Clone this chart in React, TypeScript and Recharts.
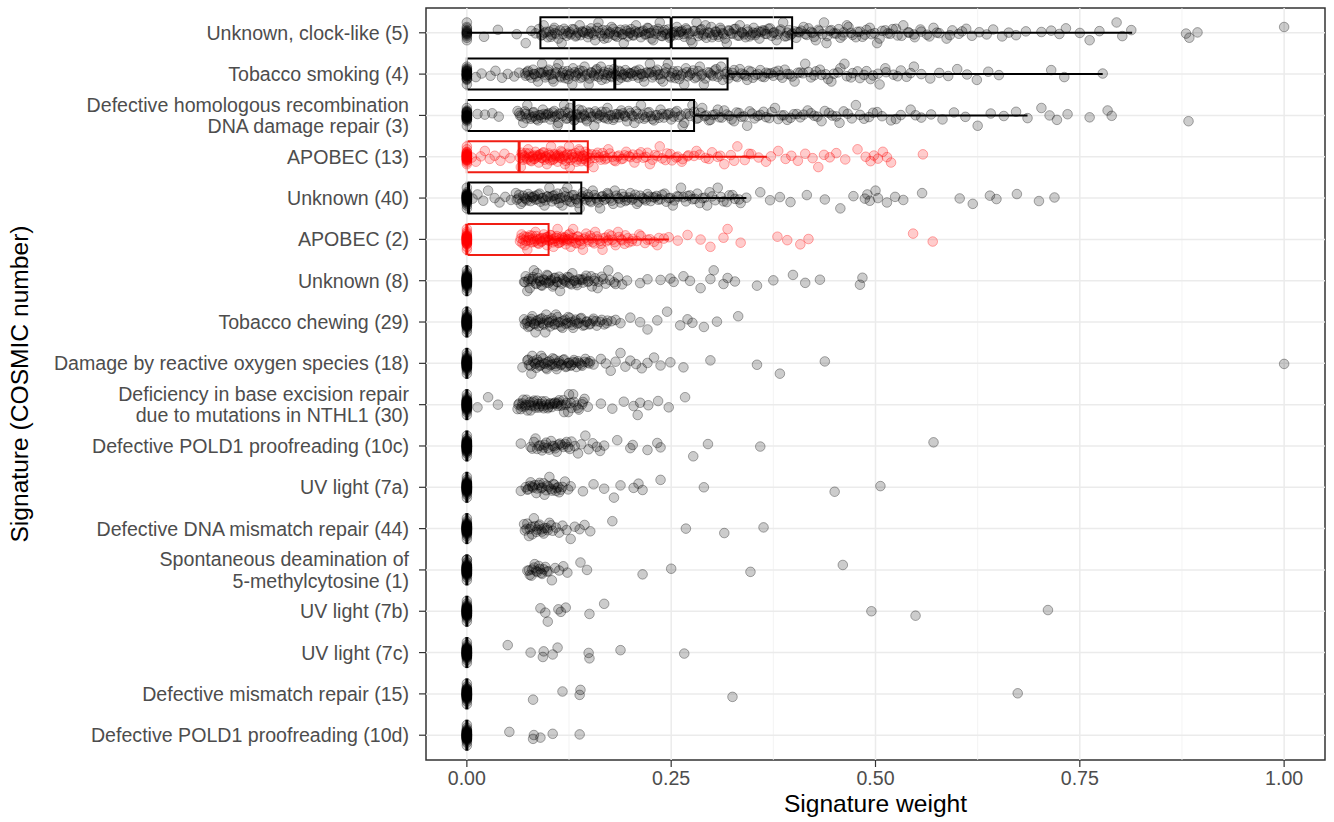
import React from "react";
import { ScatterChart, Scatter, XAxis, YAxis, ReferenceLine, ReferenceArea, Label } from "recharts";

const SIGNATURES = [
  "Unknown, clock-like (5)",
  "Tobacco smoking (4)",
  "Defective homologous recombination\nDNA damage repair (3)",
  "APOBEC (13)",
  "Unknown (40)",
  "APOBEC (2)",
  "Unknown (8)",
  "Tobacco chewing (29)",
  "Damage by reactive oxygen species (18)",
  "Deficiency in base excision repair\ndue to mutations in NTHL1 (30)",
  "Defective POLD1 proofreading (10c)",
  "UV light (7a)",
  "Defective DNA mismatch repair (44)",
  "Spontaneous deamination of\n5-methylcytosine (1)",
  "UV light (7b)",
  "UV light (7c)",
  "Defective mismatch repair (15)",
  "Defective POLD1 proofreading (10d)",
];

// rows coloured red (APOBEC signatures)
const APOBEC_ROWS = [3, 5];

// how many samples sit at exactly 0 for each signature
const ZERO_COUNTS = [14, 26, 26, 30, 34, 34, 44, 44, 44, 44, 46, 46, 46, 46, 46, 46, 46, 46];

// boxplot stats
const Q1 = [0.09, 0, 0, 0, 0, 0, 0, 0, 0, 0, 0, 0, 0, 0, 0, 0, 0, 0];
const MEDIAN = [0.25, 0.181, 0.131, 0.064, 0.002, 0, 0, 0, 0, 0, 0, 0, 0, 0, 0, 0, 0, 0];
const Q3 = [0.398, 0.319, 0.278, 0.148, 0.14, 0.1, 0, 0, 0, 0, 0, 0, 0, 0, 0, 0, 0, 0];
const WHISKER_HI = [0.814, 0.778, 0.686, 0.367, 0.342, 0.247, 0, 0, 0, 0, 0, 0, 0, 0, 0, 0, 0, 0];

// non-zero weights per signature
const SIG5 = [
  0.021, 0.038, 0.061, 0.072, 0.079, 0.084, 0.088,
  0.091, 0.094, 0.095, 0.099, 0.101, 0.104, 0.107, 0.108, 0.112, 0.114, 0.118, 0.119, 0.122, 0.126,
  0.127, 0.131, 0.133, 0.136, 0.139, 0.141, 0.142, 0.146, 0.149, 0.152, 0.153, 0.157, 0.158, 0.161,
  0.165, 0.166, 0.169, 0.172, 0.175, 0.177, 0.18, 0.183, 0.184, 0.188, 0.191, 0.192, 0.196, 0.199,
  0.201, 0.204, 0.207, 0.209, 0.213, 0.214, 0.218, 0.221, 0.223, 0.226, 0.229, 0.231, 0.234, 0.238,
  0.24, 0.243, 0.246, 0.249, 0.251, 0.254, 0.256, 0.26, 0.263, 0.265, 0.268, 0.272, 0.274, 0.277,
  0.281, 0.283, 0.286, 0.29, 0.293, 0.295, 0.299, 0.302, 0.305, 0.308, 0.311, 0.314, 0.318, 0.321,
  0.323, 0.327, 0.331, 0.334, 0.337, 0.341, 0.344, 0.348, 0.351, 0.354, 0.358, 0.362, 0.365, 0.369,
  0.373, 0.376, 0.38, 0.384, 0.389, 0.392, 0.396, 0.401, 0.405, 0.409, 0.414, 0.418, 0.423, 0.427,
  0.431, 0.437, 0.441, 0.446, 0.452, 0.457, 0.461, 0.467, 0.472, 0.478, 0.484, 0.489, 0.495, 0.502,
  0.508, 0.515, 0.521, 0.527, 0.534, 0.541, 0.548, 0.556, 0.563, 0.571, 0.578, 0.587, 0.594, 0.602,
  0.611, 0.618, 0.627, 0.636, 0.644, 0.655, 0.663, 0.672, 0.684,
  0.703, 0.715, 0.725, 0.733, 0.75, 0.762, 0.774, 0.795, 0.802, 0.813, 0.88, 0.884, 0.894, 1.0,
  0.092, 0.097, 0.103, 0.106, 0.11, 0.116, 0.121, 0.124, 0.129, 0.134, 0.138, 0.144, 0.148, 0.151,
  0.155, 0.16, 0.163, 0.168, 0.171, 0.174, 0.179, 0.182, 0.186, 0.19, 0.194, 0.197, 0.2, 0.203,
  0.206, 0.211, 0.216, 0.219, 0.222, 0.225, 0.228, 0.233, 0.236, 0.239, 0.242, 0.245, 0.248, 0.253,
  0.257, 0.259, 0.262, 0.266, 0.269, 0.271, 0.276, 0.279, 0.284, 0.287, 0.289, 0.292, 0.297, 0.3,
  0.304, 0.307, 0.31, 0.313, 0.316, 0.32, 0.325, 0.329, 0.333, 0.336, 0.339, 0.343, 0.346, 0.35,
  0.353, 0.357, 0.36, 0.364, 0.367, 0.371, 0.375, 0.379, 0.383, 0.387, 0.391, 0.394, 0.398, 0.403,
  0.407, 0.412, 0.416, 0.421, 0.425, 0.43, 0.435, 0.44, 0.444, 0.449, 0.455, 0.46, 0.465, 0.47,
  0.476, 0.481, 0.487, 0.493, 0.499, 0.505, 0.512, 0.518, 0.525, 0.532, 0.54, 0.547, 0.555, 0.566,
  0.575, 0.591, 0.606,
];
const SIG4 = [
  0.011, 0.018, 0.029, 0.035, 0.043, 0.05, 0.058, 0.064,
  0.071, 0.074, 0.076, 0.081, 0.083, 0.087, 0.09, 0.092, 0.096, 0.099, 0.101, 0.105, 0.108, 0.11,
  0.114, 0.117, 0.12, 0.123, 0.125, 0.129, 0.132, 0.134, 0.138, 0.141, 0.144, 0.147, 0.15, 0.153,
  0.156, 0.159, 0.162, 0.165, 0.168, 0.171, 0.174, 0.177, 0.179, 0.183, 0.186, 0.189, 0.192, 0.195,
  0.198, 0.201, 0.205, 0.208, 0.211, 0.214, 0.217, 0.221, 0.224, 0.227, 0.231, 0.234, 0.237, 0.241,
  0.244, 0.248, 0.251, 0.255, 0.258, 0.262, 0.266, 0.269, 0.273, 0.277, 0.281, 0.285, 0.288, 0.292,
  0.297, 0.301, 0.305, 0.309, 0.313, 0.318, 0.322, 0.327, 0.331, 0.336, 0.341, 0.345, 0.35, 0.356,
  0.361, 0.366, 0.372, 0.377, 0.383, 0.389, 0.395, 0.401, 0.408, 0.414, 0.421, 0.427, 0.434, 0.442,
  0.449, 0.457, 0.465, 0.472, 0.481, 0.489, 0.497, 0.505, 0.513, 0.522, 0.531, 0.538, 0.547, 0.556,
  0.567, 0.578, 0.589, 0.6, 0.612, 0.624, 0.638, 0.651, 0.715, 0.731, 0.778,
  0.072, 0.075, 0.079, 0.082, 0.085, 0.088, 0.091, 0.094, 0.097, 0.1, 0.103, 0.106, 0.109, 0.112,
  0.115, 0.118, 0.121, 0.124, 0.127, 0.13, 0.133, 0.136, 0.139, 0.142, 0.145, 0.149, 0.152, 0.155,
  0.158, 0.161, 0.164, 0.167, 0.17, 0.173, 0.176, 0.18, 0.182, 0.185, 0.188, 0.191, 0.194, 0.197,
  0.2, 0.203, 0.207, 0.21, 0.213, 0.216, 0.219, 0.223, 0.226, 0.229, 0.233, 0.236, 0.24, 0.243,
  0.246, 0.25, 0.253, 0.257, 0.26, 0.264, 0.268, 0.271, 0.275, 0.279, 0.283, 0.287, 0.29, 0.295,
  0.299, 0.303, 0.307, 0.311, 0.316, 0.32, 0.325, 0.329, 0.334, 0.339, 0.343, 0.348, 0.353, 0.359,
  0.364, 0.369, 0.375, 0.381, 0.386, 0.392, 0.398, 0.405, 0.411, 0.418, 0.425, 0.432, 0.439, 0.446,
  0.454, 0.462, 0.47, 0.478, 0.486, 0.494, 0.503, 0.512, 0.527, 0.543,
];
const SIG3 = [
  0.013, 0.022, 0.031, 0.039,
  0.062, 0.065, 0.069, 0.072, 0.074, 0.078, 0.081, 0.083, 0.087, 0.09, 0.093, 0.095, 0.099, 0.102,
  0.105, 0.108, 0.111, 0.113, 0.117, 0.12, 0.123, 0.126, 0.129, 0.132, 0.135, 0.138, 0.141, 0.144,
  0.147, 0.151, 0.154, 0.157, 0.16, 0.163, 0.167, 0.17, 0.173, 0.177, 0.18, 0.184, 0.187, 0.191,
  0.194, 0.198, 0.202, 0.205, 0.209, 0.213, 0.217, 0.221, 0.225, 0.229, 0.233, 0.237, 0.241, 0.246,
  0.25, 0.255, 0.259, 0.264, 0.268, 0.273, 0.278, 0.283, 0.288, 0.293, 0.298, 0.304, 0.309, 0.315,
  0.321, 0.327, 0.333, 0.339, 0.346, 0.352, 0.359, 0.366, 0.373, 0.381, 0.388, 0.396, 0.404, 0.412,
  0.421, 0.429, 0.438, 0.447, 0.456, 0.466, 0.476, 0.486, 0.497, 0.508, 0.519, 0.531, 0.543, 0.556,
  0.568, 0.582, 0.596, 0.61, 0.625, 0.641, 0.657, 0.672, 0.686,
  0.703, 0.713, 0.722, 0.735, 0.762, 0.784, 0.789, 0.883,
  0.064, 0.067, 0.071, 0.073, 0.076, 0.08, 0.082, 0.085, 0.088, 0.091, 0.094, 0.097, 0.1, 0.104,
  0.107, 0.11, 0.112, 0.115, 0.119, 0.122, 0.124, 0.127, 0.131, 0.134, 0.137, 0.14, 0.143, 0.146,
  0.149, 0.152, 0.156, 0.159, 0.162, 0.165, 0.169, 0.172, 0.175, 0.179, 0.182, 0.186, 0.189, 0.193,
  0.196, 0.2, 0.204, 0.207, 0.211, 0.215, 0.219, 0.223, 0.227, 0.231, 0.235, 0.239, 0.244, 0.248,
  0.253, 0.257, 0.262, 0.266, 0.271, 0.276, 0.281, 0.286, 0.291, 0.296, 0.301, 0.307, 0.312, 0.318,
  0.324, 0.33, 0.336, 0.343, 0.349, 0.356, 0.363, 0.37, 0.377, 0.385, 0.392, 0.4, 0.408, 0.417,
  0.425, 0.434, 0.443, 0.452, 0.461, 0.471, 0.481, 0.492, 0.502, 0.525, 0.549,
];
const SIG13 = [
  0.006, 0.011, 0.017, 0.022, 0.028, 0.034, 0.041, 0.046, 0.053,
  0.066, 0.068, 0.07, 0.072, 0.074, 0.075, 0.077, 0.079, 0.081, 0.083, 0.084, 0.086, 0.088, 0.09,
  0.091, 0.093, 0.095, 0.097, 0.099, 0.1, 0.102, 0.104, 0.106, 0.108, 0.11, 0.112, 0.114, 0.116,
  0.118, 0.12, 0.122, 0.125, 0.127, 0.129, 0.131, 0.134, 0.136, 0.138, 0.141, 0.143, 0.146, 0.148,
  0.151, 0.155, 0.158, 0.162, 0.166, 0.169, 0.173, 0.178, 0.182, 0.186, 0.191, 0.195, 0.2, 0.205,
  0.21, 0.216, 0.221, 0.227, 0.233, 0.239, 0.245, 0.251, 0.258, 0.264, 0.271, 0.278, 0.285, 0.292,
  0.3, 0.307, 0.315, 0.323, 0.331, 0.34, 0.348, 0.357, 0.366,
  0.372, 0.381, 0.39, 0.397, 0.405, 0.414, 0.423, 0.43, 0.437, 0.444, 0.452, 0.463, 0.478, 0.488,
  0.494, 0.498, 0.503, 0.509, 0.514, 0.519, 0.558,
  0.065, 0.067, 0.069, 0.071, 0.073, 0.076, 0.078, 0.08, 0.082, 0.085, 0.087, 0.089, 0.092, 0.094,
  0.096, 0.098, 0.101, 0.103, 0.105, 0.107, 0.109, 0.111, 0.113, 0.115, 0.117, 0.119, 0.121, 0.123,
  0.124, 0.126, 0.128, 0.13, 0.133, 0.135, 0.137, 0.139, 0.14, 0.142, 0.144, 0.145, 0.147, 0.149,
  0.153, 0.157, 0.16, 0.164, 0.168, 0.171, 0.175, 0.18, 0.184, 0.189, 0.193, 0.198, 0.203, 0.208,
  0.213, 0.219, 0.224, 0.23, 0.236, 0.243, 0.249, 0.256, 0.263, 0.27, 0.281, 0.296, 0.31, 0.327,
  0.345,
];
const SIG40 = [
  0.007, 0.013, 0.02, 0.026, 0.034, 0.04, 0.047, 0.054,
  0.06, 0.063, 0.066, 0.069, 0.072, 0.075, 0.078, 0.081, 0.084, 0.087, 0.09, 0.093, 0.096, 0.099,
  0.102, 0.105, 0.108, 0.111, 0.114, 0.117, 0.12, 0.123, 0.126, 0.129, 0.133, 0.136, 0.139, 0.142,
  0.146, 0.149, 0.152, 0.156, 0.159, 0.163, 0.166, 0.17, 0.173, 0.177, 0.181, 0.185, 0.188, 0.192,
  0.196, 0.2, 0.204, 0.208, 0.212, 0.217, 0.221, 0.225, 0.23, 0.234, 0.239, 0.244, 0.249, 0.254,
  0.259, 0.265, 0.27, 0.276, 0.282, 0.288, 0.294, 0.3, 0.307, 0.314, 0.321, 0.328, 0.335, 0.342,
  0.359, 0.371, 0.383, 0.396, 0.416, 0.438, 0.457, 0.473, 0.487, 0.49, 0.493, 0.5, 0.503, 0.514,
  0.524, 0.534, 0.557, 0.603, 0.619, 0.64, 0.648, 0.673, 0.7, 0.719,
  0.061, 0.064, 0.068, 0.071, 0.074, 0.077, 0.08, 0.083, 0.086, 0.089, 0.092, 0.095, 0.098, 0.101,
  0.104, 0.107, 0.11, 0.113, 0.116, 0.119, 0.122, 0.125, 0.128, 0.131, 0.134, 0.138, 0.141, 0.144,
  0.148, 0.151, 0.154, 0.158, 0.161, 0.165, 0.168, 0.172, 0.175, 0.179, 0.183, 0.187, 0.19, 0.194,
  0.198, 0.202, 0.206, 0.21, 0.215, 0.219, 0.223, 0.228, 0.232, 0.237, 0.242, 0.247, 0.252, 0.257,
  0.262, 0.268, 0.273, 0.279, 0.285, 0.291, 0.297, 0.304, 0.311, 0.318, 0.325, 0.333,
];
const SIG2 = [
  0.065, 0.067, 0.069, 0.071, 0.073, 0.075, 0.077, 0.079, 0.081, 0.083, 0.085, 0.087, 0.089, 0.091,
  0.093, 0.095, 0.097, 0.1, 0.102, 0.104, 0.106, 0.109, 0.111, 0.113, 0.116, 0.118, 0.121, 0.123,
  0.126, 0.128, 0.131, 0.134, 0.136, 0.139, 0.142, 0.145, 0.148, 0.151, 0.154, 0.157, 0.16, 0.164,
  0.167, 0.171, 0.174, 0.178, 0.182, 0.186, 0.19, 0.194, 0.198, 0.203, 0.208, 0.213, 0.218, 0.224,
  0.229, 0.235, 0.241, 0.247,
  0.258, 0.27, 0.286, 0.298, 0.314, 0.319, 0.335, 0.38, 0.392, 0.408, 0.418, 0.546, 0.57,
  0.066, 0.068, 0.07, 0.072, 0.074, 0.076, 0.078, 0.08, 0.082, 0.084, 0.086, 0.088, 0.09, 0.092,
  0.094, 0.096, 0.098, 0.099, 0.101, 0.103, 0.105, 0.107, 0.108, 0.11, 0.112, 0.114, 0.115, 0.117,
  0.119, 0.12, 0.122, 0.124, 0.125, 0.127, 0.129, 0.13, 0.133, 0.135, 0.138, 0.14, 0.143, 0.146,
  0.149, 0.153, 0.156, 0.159, 0.163, 0.166, 0.17, 0.173, 0.177, 0.181, 0.185, 0.189, 0.193, 0.197,
  0.202, 0.211, 0.221, 0.233,
];
const SIG8 = [
  0.07, 0.072, 0.075, 0.077, 0.08, 0.082, 0.085, 0.087, 0.09, 0.092, 0.095, 0.098, 0.1, 0.103,
  0.106, 0.108, 0.111, 0.114, 0.117, 0.12, 0.123, 0.126, 0.129, 0.132, 0.135, 0.139, 0.142, 0.146,
  0.149, 0.153, 0.157, 0.161, 0.165, 0.17, 0.175, 0.18, 0.185, 0.19, 0.196,
  0.212, 0.221, 0.237, 0.249, 0.253, 0.265, 0.273, 0.286, 0.298, 0.302, 0.314, 0.319, 0.328, 0.355,
  0.375, 0.399, 0.414, 0.432, 0.481, 0.484,
  0.071, 0.074, 0.076, 0.079, 0.081, 0.084, 0.086, 0.089, 0.091, 0.094, 0.097, 0.099, 0.102, 0.105,
  0.107, 0.11, 0.113, 0.116, 0.119, 0.122, 0.125, 0.128, 0.131, 0.134, 0.137, 0.141, 0.144, 0.148,
  0.152, 0.156, 0.16, 0.167, 0.173, 0.182,
];
const SIG29 = [
  0.07, 0.073, 0.075, 0.078, 0.08, 0.083, 0.085, 0.088, 0.09, 0.093, 0.096, 0.098, 0.101, 0.104,
  0.107, 0.109, 0.112, 0.115, 0.118, 0.121, 0.124, 0.127, 0.13, 0.133, 0.137, 0.14, 0.144, 0.147,
  0.151, 0.155, 0.159, 0.163, 0.168, 0.172, 0.177, 0.182, 0.188,
  0.2, 0.212, 0.221, 0.233, 0.245, 0.261, 0.27, 0.276, 0.29, 0.306, 0.332,
  0.071, 0.074, 0.077, 0.079, 0.082, 0.084, 0.087, 0.089, 0.092, 0.094, 0.097, 0.1, 0.102, 0.105,
  0.108, 0.111, 0.114, 0.117, 0.12, 0.123, 0.126, 0.129, 0.132, 0.135, 0.139, 0.142, 0.146, 0.15,
  0.154, 0.158, 0.165, 0.171,
];
const SIG18 = [
  0.068, 0.074, 0.076, 0.079, 0.081, 0.084, 0.086, 0.089, 0.091, 0.094, 0.097, 0.099, 0.102, 0.105,
  0.108, 0.11, 0.113, 0.116, 0.119, 0.122, 0.125, 0.128, 0.131, 0.134, 0.138, 0.141, 0.144, 0.148,
  0.151, 0.155, 0.164, 0.17, 0.176, 0.182, 0.188, 0.194, 0.2, 0.207, 0.214, 0.221, 0.229, 0.237,
  0.249, 0.265, 0.298, 0.355, 0.383, 0.438, 1.0,
  0.075, 0.078, 0.08, 0.083, 0.085, 0.088, 0.09, 0.093, 0.096, 0.098, 0.101, 0.104, 0.107, 0.109,
  0.112, 0.115, 0.118, 0.121, 0.124, 0.127, 0.13, 0.133, 0.136, 0.14, 0.145, 0.15,
];
const SIG30 = [
  0.013, 0.026, 0.038,
  0.062, 0.064, 0.067, 0.069, 0.072, 0.074, 0.077, 0.079, 0.082, 0.084, 0.087, 0.089, 0.092, 0.094,
  0.097, 0.1, 0.102, 0.105, 0.108, 0.111, 0.113, 0.116, 0.119, 0.122, 0.125, 0.128, 0.131, 0.134,
  0.137, 0.141, 0.144, 0.148,
  0.164, 0.178, 0.192, 0.204, 0.209, 0.212, 0.222, 0.234, 0.247, 0.267,
  0.063, 0.066, 0.068, 0.071, 0.073, 0.076, 0.078, 0.081, 0.083, 0.086, 0.088, 0.091, 0.093, 0.096,
  0.099, 0.101, 0.104, 0.107, 0.11, 0.112, 0.115, 0.118, 0.121, 0.124, 0.127, 0.13, 0.136, 0.142,
];
const SIG10C = [
  0.066, 0.078, 0.082, 0.086, 0.09, 0.094, 0.097, 0.101, 0.105, 0.108, 0.112, 0.116, 0.12, 0.124,
  0.128, 0.132, 0.136, 0.14, 0.145, 0.149, 0.154, 0.159, 0.163, 0.168,
  0.184, 0.2, 0.203, 0.221, 0.233, 0.237, 0.277, 0.295, 0.359, 0.571,
  0.08, 0.084, 0.088, 0.092, 0.095, 0.099, 0.103, 0.107, 0.11, 0.114, 0.118, 0.122, 0.126,
];
const SIG7A = [
  0.066, 0.072, 0.074, 0.077, 0.08, 0.083, 0.086, 0.089, 0.092, 0.095, 0.098, 0.101, 0.104, 0.107,
  0.11, 0.113, 0.117, 0.12, 0.124, 0.127,
  0.142, 0.155, 0.168, 0.18, 0.188, 0.204, 0.21, 0.215, 0.237, 0.29, 0.45, 0.506,
  0.075, 0.078, 0.081, 0.085, 0.088, 0.091, 0.094, 0.097, 0.1, 0.103, 0.106, 0.109, 0.112, 0.115,
];
const SIG44 = [
  0.07, 0.073, 0.076, 0.079, 0.082, 0.085, 0.088, 0.091, 0.094, 0.098, 0.101, 0.105, 0.109, 0.113,
  0.117, 0.122, 0.127, 0.132, 0.138, 0.144, 0.151,
  0.178, 0.268, 0.315, 0.363,
  0.071, 0.074, 0.077, 0.08, 0.083, 0.086, 0.089, 0.092, 0.095, 0.099, 0.103,
];
const SIG1 = [
  0.074, 0.077, 0.08, 0.083, 0.086, 0.089, 0.092, 0.096, 0.1, 0.104, 0.108, 0.113, 0.118, 0.123,
  0.139, 0.147, 0.215, 0.25, 0.347, 0.46,
  0.076, 0.079, 0.082, 0.085, 0.088, 0.091, 0.094, 0.098,
];
const SIG7B = [0.09, 0.096, 0.099, 0.112, 0.115, 0.121, 0.15, 0.168, 0.495, 0.549, 0.711];
const SIG7C = [0.05, 0.078, 0.093, 0.094, 0.105, 0.111, 0.149, 0.15, 0.188, 0.266];
const SIG15 = [0.081, 0.117, 0.138, 0.139, 0.325, 0.674];
const SIG10D = [0.052, 0.081, 0.082, 0.09, 0.105, 0.138];

const WEIGHTS = [
  SIG5, SIG4, SIG3, SIG13, SIG40, SIG2, SIG8, SIG29, SIG18,
  SIG30, SIG10C, SIG7A, SIG44, SIG1, SIG7B, SIG7C, SIG15, SIG10D,
];

// vertical jitter offsets (fraction of a row, peaked with thin tails), cycled over the points
const JITTER = [
  0.029, -0.107, 0.004, 0.18, -0.04, -0.25, 0.08, -0.065, 0.019, 0.12, -0.009, -0.14, 0.052, -0.024,
  0.097, -0.072, 0.034, 0.25, -0.046, 0.014, -0.088, 0.065, -0.18, 0, 0.107, -0.029, 0.046, -0.12,
  0.009, 0.14, -0.058, 0.024, -0.097, 0.072, -0.014, 0.04, -0.08, 0.088, -0.004, 0.058, -0.034,
  -0.019, -0.052,
];

const X_TICKS = [0, 0.25, 0.5, 0.75, 1];
const X_MINOR = [0.125, 0.375, 0.625, 0.875];
const ROWS = SIGNATURES.map((_, i) => i);

const FONT = "'Liberation Sans', Arial, Helvetica, sans-serif";

const blackPoints: { x: number; y: number }[] = [];
const redPoints: { x: number; y: number }[] = [];
WEIGHTS.forEach((vals, i) => {
  const all = [...new Array(ZERO_COUNTS[i]).fill(0), ...vals];
  all.forEach((v, k) => {
    const p = { x: v, y: i + JITTER[(k + i * 7) % JITTER.length] };
    if (APOBEC_ROWS.includes(i)) redPoints.push(p);
    else blackPoints.push(p);
  });
});

const dot = (color: string) => (props: any) => (
  <circle
    cx={props.cx}
    cy={props.cy}
    r={4.8}
    fill={color}
    fillOpacity={0.2}
    stroke={color}
    strokeOpacity={0.32}
    strokeWidth={1}
  />
);

const SigTick = (props: any) => {
  const { x, y, payload } = props;
  const lines = (SIGNATURES[payload.value] || "").split("\n");
  const lh = 21.5;
  const y0 = y - ((lines.length - 1) * lh) / 2;
  return (
    <text x={x} y={y0} textAnchor="end" fill="#4d4d4d" fontSize={19.6} fontFamily={FONT}>
      {lines.map((l: string, j: number) => (
        <tspan key={j} x={x} y={y0 + j * lh} dy="0.36em">
          {l}
        </tspan>
      ))}
    </text>
  );
};

export default function App() {
  return (
    <div style={{ width: 1334, height: 822 }}>
      <style>{"body{margin:0;background:#fff}"}</style>
      <ScatterChart width={1334} height={822} margin={{ top: 8, right: 9, bottom: 0, left: 0 }}>
        <XAxis
          type="number"
          dataKey="x"
          domain={[-0.05, 1.05]}
          ticks={X_TICKS}
          allowDataOverflow
          tickFormatter={(v: number) => v.toFixed(2)}
          tick={{ fill: "#4d4d4d", fontSize: 19.6, fontFamily: FONT }}
          tickLine={{ stroke: "#333", strokeWidth: 1.2 }}
          axisLine={false}
          tickSize={7}
          tickMargin={4}
          height={62}
        >
          <Label
            value="Signature weight"
            position="insideBottom"
            offset={10}
            style={{ fontSize: 24.6, fill: "#000", fontFamily: FONT }}
          />
        </XAxis>
        <YAxis
          type="number"
          dataKey="y"
          domain={[-0.6, 17.6]}
          reversed
          ticks={ROWS}
          interval={0}
          allowDataOverflow
          tick={<SigTick />}
          tickLine={{ stroke: "#333", strokeWidth: 1.2 }}
          axisLine={false}
          tickSize={7}
          tickMargin={10}
          width={426}
        >
          <Label
            content={() => (
              <text
                transform="translate(19,384) rotate(-90)"
                textAnchor="middle"
                dominantBaseline="central"
                fontSize={24.6}
                fontFamily={FONT}
                fill="#000"
              >
                Signature (COSMIC number)
              </text>
            )}
          />
        </YAxis>

        {X_MINOR.map((v) => (
          <ReferenceLine key={"mn" + v} x={v} stroke="#f0f0f0" strokeWidth={0.8} />
        ))}
        {X_TICKS.map((v) => (
          <ReferenceLine key={"mj" + v} x={v} stroke="#ebebeb" strokeWidth={1.5} />
        ))}
        {ROWS.map((r) => (
          <ReferenceLine key={"h" + r} y={r} stroke="#ebebeb" strokeWidth={1.5} />
        ))}

        <Scatter data={blackPoints} shape={dot("#000")} isAnimationActive={false} />
        <Scatter data={redPoints} shape={dot("#ff0000")} isAnimationActive={false} />

        {ROWS.map((r) => {
          const col = APOBEC_ROWS.includes(r) ? "#f01e14" : "#000";
          return (
            <React.Fragment key={"box" + r}>
              {Q1[r] > 0 && (
                <ReferenceLine
                  segment={[{ x: 0, y: r }, { x: Q1[r], y: r }]}
                  stroke={col}
                  strokeWidth={2}
                />
              )}
              {WHISKER_HI[r] > Q3[r] && (
                <ReferenceLine
                  segment={[{ x: Q3[r], y: r }, { x: WHISKER_HI[r], y: r }]}
                  stroke={col}
                  strokeWidth={2}
                />
              )}
              <ReferenceArea
                x1={Q1[r]}
                x2={Q3[r]}
                y1={r - 0.375}
                y2={r + 0.375}
                fill="none"
                fillOpacity={0}
                stroke={col}
                strokeWidth={2}
              />
              <ReferenceLine
                segment={[{ x: MEDIAN[r], y: r - 0.375 }, { x: MEDIAN[r], y: r + 0.375 }]}
                stroke={col}
                strokeWidth={3}
              />
            </React.Fragment>
          );
        })}

        <ReferenceArea
          x1={-0.05}
          x2={1.05}
          y1={-0.6}
          y2={17.6}
          fill="none"
          fillOpacity={0}
          stroke="#333"
          strokeWidth={1.5}
        />
      </ScatterChart>
    </div>
  );
}
